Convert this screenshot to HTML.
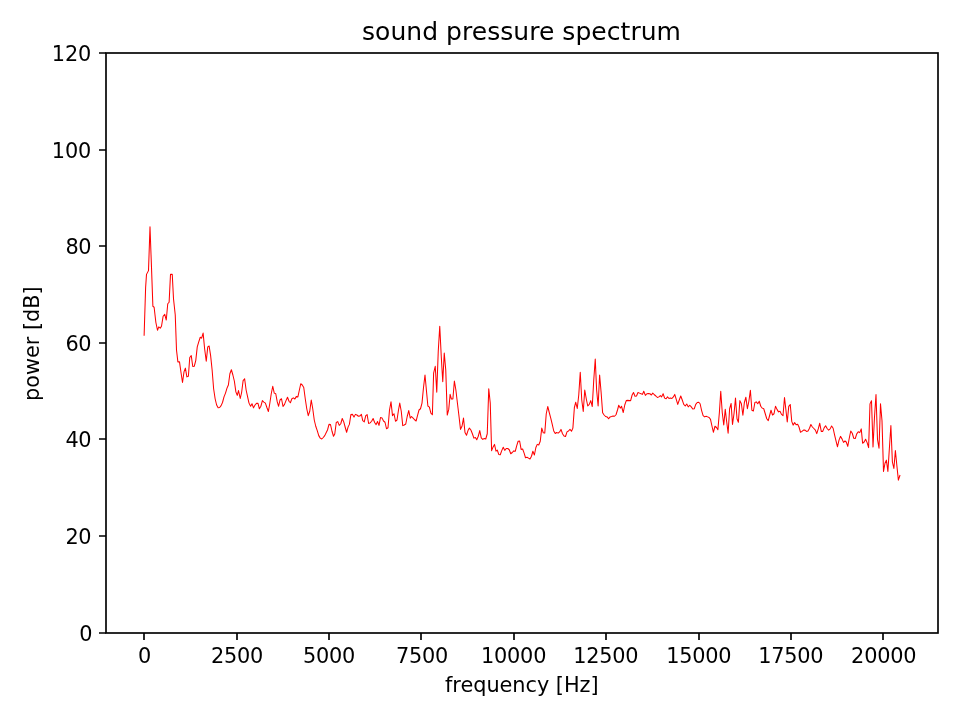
<!DOCTYPE html>
<html lang="en"><head><meta charset="utf-8"><title>sound pressure spectrum</title>
<style>
html,body{margin:0;padding:0;background:#fff;}
body{width:960px;height:720px;overflow:hidden;}
svg{display:block;}
text{font-family:"DejaVu Sans","Liberation Sans",sans-serif;fill:#000;}
.t{font-size:20.83px;}
.n{font-size:20.83px;letter-spacing:-0.22px;}
.ti{font-size:25px;letter-spacing:0.04px;}
</style></head><body>
<svg width="960" height="720" viewBox="0 0 960 720">
<rect width="960" height="720" fill="#fff"/>
<polyline fill="none" stroke="#ff0000" stroke-width="1.04" stroke-linejoin="round" stroke-linecap="square" points="144.12,335.25 145.62,287.50 146.50,274.38 148.50,270.62 150.00,226.88 151.50,267.50 152.88,306.25 154.12,307.25 155.88,322.50 157.50,330.25 158.75,326.88 160.25,328.12 161.50,326.25 163.12,316.25 164.75,314.38 166.25,320.00 167.75,303.75 169.12,302.25 170.50,274.38 172.25,274.38 173.50,298.75 175.25,315.00 176.50,350.00 177.88,361.88 179.50,361.88 181.00,372.50 182.50,382.50 184.00,371.88 185.38,368.12 186.88,376.88 188.38,376.25 189.75,357.50 191.25,355.62 192.75,366.50 194.25,366.25 195.75,360.62 197.25,346.88 198.75,341.88 200.25,337.25 201.62,338.12 203.12,333.12 204.62,348.75 206.25,361.25 207.75,346.88 209.12,346.00 210.62,355.62 212.12,370.00 213.62,388.75 215.12,398.75 216.62,405.00 218.12,407.75 219.62,407.50 221.12,405.62 222.50,402.50 224.00,396.88 225.50,393.12 227.00,388.12 228.38,385.00 229.88,373.75 231.38,369.75 232.88,375.00 234.38,381.25 235.88,391.88 237.25,395.38 238.50,390.62 240.25,398.50 241.62,392.50 243.12,380.62 244.62,378.75 246.12,390.00 247.62,396.88 249.00,403.12 250.62,406.25 252.00,403.75 253.50,407.88 255.00,405.00 256.50,403.38 258.00,403.38 259.38,408.75 260.88,406.25 262.38,400.62 263.88,402.12 265.38,403.12 266.88,407.50 268.38,411.50 269.75,403.75 271.25,393.75 272.75,386.25 274.25,393.12 275.75,393.75 277.25,401.88 278.62,406.25 280.00,400.00 281.50,398.75 283.00,406.50 284.50,404.38 286.00,400.62 287.50,397.25 289.00,401.25 290.38,402.75 291.88,398.75 293.38,397.88 294.88,399.00 296.25,396.62 297.88,396.88 299.38,390.00 300.75,383.75 302.25,385.00 303.75,387.50 305.25,398.75 306.75,408.75 308.25,415.62 309.75,411.25 311.25,400.00 312.75,408.75 314.25,420.00 315.75,426.25 317.25,430.62 318.75,435.62 320.25,438.12 321.75,439.00 323.25,437.50 324.75,435.62 326.25,432.50 327.50,430.00 329.00,424.38 330.50,424.62 332.00,431.25 333.50,436.25 334.75,434.00 336.25,422.50 337.75,421.62 339.25,425.38 340.75,423.75 342.25,418.50 343.75,421.88 345.25,427.50 346.62,432.25 348.12,426.88 349.38,424.38 350.88,414.62 352.50,414.38 354.00,417.12 355.38,414.38 356.88,415.00 358.38,416.25 360.00,415.88 361.38,414.38 362.75,420.62 364.25,421.88 365.75,415.62 367.12,414.62 368.62,423.50 370.12,422.88 371.62,421.25 373.12,418.50 374.62,422.50 376.12,424.62 377.50,421.50 379.00,425.38 380.50,417.50 382.00,417.88 383.50,421.00 385.00,422.25 386.50,428.75 388.00,427.75 389.50,410.00 391.00,401.88 392.50,415.62 394.00,413.75 395.50,421.25 397.00,420.00 398.50,410.00 399.75,403.12 401.25,411.25 402.75,425.62 404.25,425.00 405.75,424.00 407.25,416.25 408.75,410.62 410.25,418.12 411.50,416.50 413.12,418.12 414.62,419.75 416.12,421.00 417.50,415.62 419.00,410.00 420.50,408.75 422.00,403.12 423.50,387.50 425.00,375.00 426.50,391.25 427.88,406.00 429.38,407.12 430.88,413.12 432.38,414.75 433.62,373.12 435.25,366.25 436.75,392.25 438.25,351.25 439.75,326.25 441.25,356.25 442.75,381.62 444.25,353.12 445.75,370.00 447.25,415.00 448.75,409.38 450.12,394.38 451.38,399.00 452.88,399.00 454.38,381.00 455.88,390.00 457.50,403.75 459.00,416.25 460.50,429.38 462.00,426.25 463.50,418.12 465.00,432.50 466.50,435.25 468.00,430.62 469.38,428.12 470.88,430.00 472.38,433.75 473.88,438.12 475.38,437.50 476.75,439.75 478.25,436.25 479.75,430.62 481.25,437.88 482.75,439.38 484.25,438.50 485.75,439.00 487.25,433.75 488.75,388.75 490.25,403.12 491.62,450.62 493.12,446.88 494.50,444.38 496.00,451.25 497.25,450.00 498.75,454.38 500.25,454.75 501.75,450.62 503.25,447.25 504.75,450.38 506.25,448.50 507.75,448.50 509.25,449.75 510.75,453.75 512.25,452.50 513.75,450.88 515.25,451.25 516.75,445.62 518.12,441.25 519.62,441.00 521.12,449.38 522.62,449.00 524.12,453.12 525.50,457.75 527.00,457.25 528.50,458.12 530.00,459.00 531.50,456.25 532.88,451.25 534.38,455.00 535.88,447.50 537.25,444.38 538.75,445.00 540.25,441.25 541.75,428.12 543.25,432.75 544.75,433.12 546.25,413.75 547.75,406.50 549.25,412.50 550.75,418.12 552.25,424.38 553.75,431.00 555.25,433.50 556.62,432.50 558.12,433.12 559.62,431.88 561.00,429.38 562.50,433.75 564.00,436.00 565.50,436.50 567.00,431.88 568.50,431.00 570.00,429.38 571.50,431.25 572.88,428.12 574.38,407.50 575.75,402.25 577.25,408.50 578.75,395.00 580.25,372.25 581.75,400.00 583.25,411.50 584.75,390.00 586.25,398.75 587.75,406.00 589.25,404.38 590.75,400.62 592.25,406.50 593.75,380.00 595.25,359.00 596.62,390.00 598.12,406.00 599.62,375.00 601.12,392.50 602.62,412.75 604.12,415.00 605.62,416.50 607.12,416.88 608.62,418.75 610.12,416.88 611.62,416.50 613.12,416.00 614.50,416.25 616.00,414.75 617.50,410.00 618.75,405.25 620.25,408.12 621.50,406.25 623.25,412.50 624.75,405.00 626.25,400.62 627.75,400.38 629.25,400.62 630.62,400.62 632.12,395.00 633.50,392.50 635.00,396.25 636.50,396.00 638.00,392.50 639.50,393.12 641.00,393.75 642.50,394.38 643.75,391.25 645.38,395.38 646.88,393.75 648.38,393.50 649.88,393.75 651.38,395.00 652.75,393.12 654.38,394.75 655.88,396.00 657.38,397.50 658.88,396.88 660.38,395.62 661.62,396.88 663.12,393.75 664.62,398.12 666.12,398.75 667.50,396.88 669.00,398.50 670.38,398.12 671.88,398.50 673.38,396.88 674.75,394.38 676.25,399.38 677.75,404.38 679.25,400.00 680.75,396.00 682.25,400.00 683.75,404.38 685.25,406.00 686.75,404.00 688.25,406.88 689.75,405.25 691.25,406.88 692.75,409.00 694.25,408.75 695.75,404.38 697.25,402.50 698.75,402.25 700.12,403.75 701.62,410.62 703.12,415.62 704.62,416.88 706.12,416.25 707.62,416.88 709.12,417.50 710.50,419.38 712.00,426.25 713.38,432.25 715.00,426.25 716.50,427.50 717.88,429.75 719.38,412.50 720.75,391.25 722.25,412.50 723.75,425.00 725.25,409.38 726.62,421.25 728.12,433.12 729.62,408.75 731.12,403.50 732.50,424.38 734.00,413.75 735.50,398.12 737.00,418.75 738.38,422.25 739.88,400.62 741.38,403.75 742.88,415.25 744.38,402.50 745.88,397.25 747.38,408.75 748.88,401.25 750.38,390.25 751.88,410.25 753.38,411.00 754.88,402.50 756.25,401.88 757.75,403.75 759.25,401.25 760.75,406.25 762.25,408.12 763.75,408.75 765.25,413.75 766.75,418.75 768.25,420.62 769.75,415.00 771.00,410.25 772.50,415.00 774.00,413.75 775.50,406.25 777.00,409.38 778.50,411.88 780.00,411.25 781.50,414.38 783.00,415.62 784.50,397.50 786.00,410.75 787.25,422.00 788.75,406.38 790.25,404.50 791.75,421.38 793.12,425.12 794.62,422.62 796.12,424.75 797.62,424.25 799.00,427.00 800.50,432.25 802.00,431.38 803.50,430.12 805.00,430.12 806.50,431.38 808.00,431.00 809.50,428.25 810.88,424.50 812.38,427.00 813.88,428.50 815.38,430.12 816.75,433.62 818.25,428.88 819.75,423.25 821.25,431.38 822.75,431.38 824.25,427.62 825.62,425.75 827.12,428.50 828.62,430.12 830.12,428.88 831.62,426.00 833.12,428.25 834.62,435.12 836.12,441.38 837.50,446.75 839.00,440.12 840.50,436.38 842.00,438.88 843.50,442.38 845.00,441.00 846.25,442.00 847.75,446.38 849.25,438.25 850.75,431.00 852.25,433.25 853.75,438.25 855.25,438.50 856.75,433.88 858.25,431.75 859.75,432.62 861.25,428.88 862.62,443.25 864.12,442.00 865.62,439.25 867.12,442.62 868.62,447.62 870.00,403.88 871.50,400.75 873.00,447.00 874.50,417.00 876.00,394.50 877.50,439.50 879.00,448.25 880.50,403.88 882.00,420.75 883.50,471.38 885.00,463.25 886.38,460.12 887.88,471.38 889.38,448.25 890.88,425.50 892.38,462.00 893.88,468.50 895.38,450.50 896.88,465.75 898.38,480.12 899.88,475.50"/>
<path d="M144 633v7 M237 633v7 M329 633v7 M421 633v7 M514 633v7 M606 633v7 M699 633v7 M791 633v7 M883 633v7 M106 633h-7 M106 536h-7 M106 439h-7 M106 343h-7 M106 246h-7 M106 150h-7 M106 53h-7" stroke="#000" stroke-width="1.67" fill="none"/>
<rect x="106" y="53" width="832" height="580" fill="none" stroke="#000" stroke-width="1.67" stroke-linejoin="miter"/>
<text class="n" x="144.52" y="662.8" text-anchor="middle">0</text>
<text class="n" x="237.04" y="662.8" text-anchor="middle">2500</text>
<text class="n" x="329.10" y="662.8" text-anchor="middle">5000</text>
<text class="n" x="422.05" y="662.8" text-anchor="middle">7500</text>
<text class="n" x="513.61" y="662.8" text-anchor="middle">10000</text>
<text class="n" x="605.76" y="662.8" text-anchor="middle">12500</text>
<text class="n" x="698.76" y="662.8" text-anchor="middle">15000</text>
<text class="n" x="790.76" y="662.8" text-anchor="middle">17500</text>
<text class="n" x="883.69" y="662.8" text-anchor="middle">20000</text>
<text class="t" x="92.50" y="640.90" text-anchor="end" style="letter-spacing:0px">0</text>
<text class="t" x="91.05" y="543.90" text-anchor="end" style="letter-spacing:-0.5px">20</text>
<text class="t" x="91.05" y="446.90" text-anchor="end" style="letter-spacing:-0.5px">40</text>
<text class="t" x="91.05" y="350.90" text-anchor="end" style="letter-spacing:-0.5px">60</text>
<text class="t" x="91.05" y="253.90" text-anchor="end" style="letter-spacing:-0.5px">80</text>
<text class="t" x="90.98" y="157.90" text-anchor="end" style="letter-spacing:-0.22px">100</text>
<text class="t" x="90.98" y="60.90" text-anchor="end" style="letter-spacing:-0.22px">120</text>
<text class="t" x="521.8" y="692" text-anchor="middle" style="letter-spacing:-0.03px">frequency [Hz]</text>
<text class="t" transform="translate(39,343.7) rotate(-90)" text-anchor="middle">power [dB]</text>
<text class="ti" x="521.5" y="39.5" text-anchor="middle">sound pressure spectrum</text>
</svg>
</body></html>
